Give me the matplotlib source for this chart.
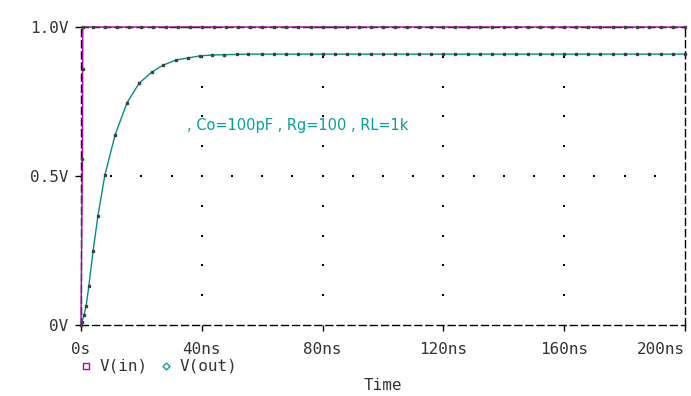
import numpy as np
import matplotlib
matplotlib.use("Agg")
from matplotlib import pyplot as plt
from matplotlib.lines import Line2D

# simulation points (time in ns, volts)
t_out = [0, 0.3, 1.0, 1.7, 2.6, 4.0, 5.6, 7.9, 11.3, 15.2, 19.3, 23.5, 27.2,
         31.4, 35.4, 39.4, 43.4, 47.4, 51.6, 55.3, 60, 64, 68, 72, 76, 80,
         84, 88, 92, 96, 100, 104, 108, 112, 116, 120, 124, 128, 132, 136,
         140, 144, 148, 152, 156, 160, 164, 168, 172, 176, 180, 184, 188,
         192, 196, 200]
v_out = [0, 0.010, 0.034, 0.064, 0.131, 0.248, 0.366, 0.503, 0.638, 0.745,
         0.812, 0.849, 0.872, 0.889, 0.896, 0.903, 0.906, 0.907, 0.908,
         0.909, 0.909, 0.909, 0.909, 0.909, 0.909, 0.909, 0.909, 0.909,
         0.909, 0.909, 0.909, 0.909, 0.909, 0.909, 0.909, 0.909, 0.909,
         0.909, 0.909, 0.909, 0.909, 0.909, 0.909, 0.909, 0.909, 0.909,
         0.909, 0.909, 0.909, 0.909, 0.909, 0.909, 0.909, 0.909, 0.909,
         0.909]
t_in = [0, 0.45, 0.55, 0.6, 4, 8, 12, 16, 20, 24, 28, 32, 36, 40, 44, 48,
        52, 56, 60, 64, 68, 72, 76, 80, 84, 88, 92, 96, 100, 104, 108, 112,
        116, 120, 124, 128, 132, 136, 140, 144, 148, 152, 156, 160, 164,
        168, 172, 176, 180, 184, 188, 192, 196, 200]
v_in = [0, 0.557, 0.86, 1.0] + [1.0] * 50

xticks = [0, 40, 80, 120, 160, 200]
xlabels = ['0s', '40ns', '80ns', '120ns', '160ns', '200ns']
yticks = [0, 0.5, 1.0]
ylabels = ['0V', '0.5V', '1.0V']
note = ', Co=100pF , Rg=100 , RL=1k'

MAG = '#b000b0'
TEAL = '#008c8c'
TXT = '#333333'
mono = 'DejaVu Sans Mono'

fig = plt.figure(figsize=(6.91, 3.96), dpi=100)
ax = fig.add_axes([81/691, 71/396, 604/691, 298/396])
ax.set_xlim(0, 200)
ax.set_ylim(0, 1.0)

# sparse dotted grid like the pspice probe window
for x in xticks[1:-1]:
    ax.scatter([x]*9, np.arange(1, 10) * 0.1, s=1, c='black', marker='s', lw=0)
ax.scatter(np.arange(10, 200, 10), [0.5]*19, s=1, c='black', marker='s', lw=0)

ax.plot(t_in, v_in, color=MAG, lw=1.0, marker='s', ms=1.6,
        mfc='#404040', mec='#404040', clip_on=False, zorder=5)
ax.plot(t_out, v_out, color=TEAL, lw=1.0, marker='s', ms=1.6,
        mfc='#404040', mec='#404040', clip_on=False, zorder=4)

ax.text(35.1, 0.668, note, color='#00a0a0', fontsize=10.5,
        family='DejaVu Sans', va='center')

for s in ax.spines.values():
    s.set_linestyle((0, (5, 3)))
    s.set_linewidth(1)
    s.set_color('black')

ax.set_xticks(xticks)
ax.set_xticklabels(xlabels)
ax.set_yticks(yticks)
ax.set_yticklabels(ylabels)
ax.tick_params(direction='out', length=4, width=1, color='black')
ax.tick_params(axis='x', pad=8)
ax.tick_params(axis='y', pad=5)
for lab in ax.get_xticklabels() + ax.get_yticklabels():
    lab.set_family(mono)
    lab.set_fontsize(11.5)
    lab.set_color(TXT)
ax.get_xticklabels()[-1].set_horizontalalignment('right')

# legend row and axis title
fig.add_artist(Line2D([86/691], [1 - 366/396], marker='s', ms=4, mfc='none',
                      mec=MAG, mew=1, ls='none'))
fig.text(100/691, 1 - 366/396, 'V(in)', family=mono, fontsize=11.5,
         color=TXT, va='center')
fig.add_artist(Line2D([166/691], [1 - 366/396], marker='D', ms=3.5, mfc='none',
                      mec='#00a0a0', mew=1, ls='none'))
fig.text(180/691, 1 - 366/396, 'V(out)', family=mono, fontsize=11.5,
         color=TXT, va='center')
fig.text(383/691, 1 - 386/396, 'Time', family=mono, fontsize=11.5,
         color=TXT, va='center', ha='center')

fig.savefig('out.png', dpi=100)
